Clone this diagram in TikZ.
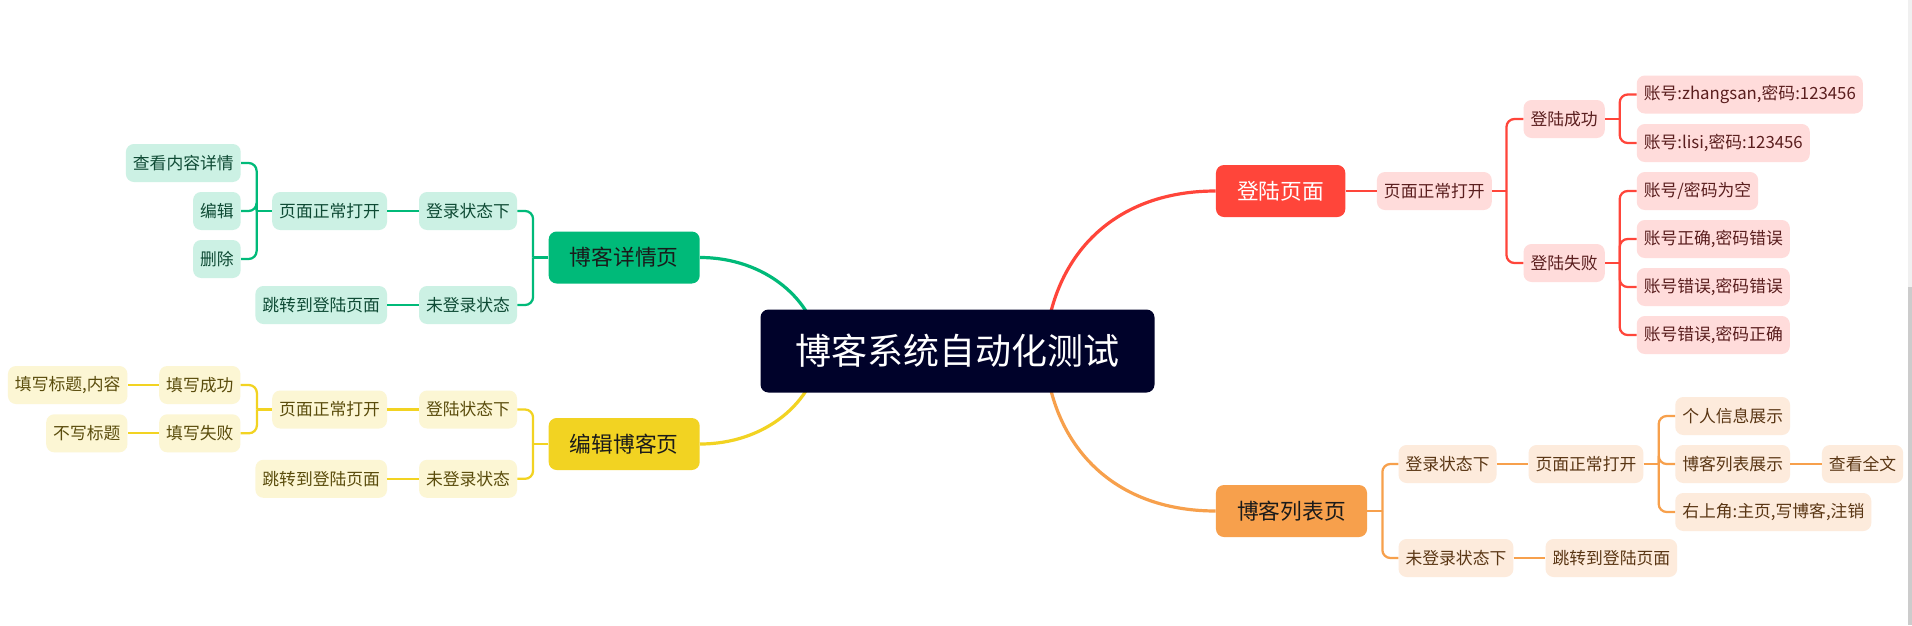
\documentclass[tikz,border=0pt]{standalone}
\usepackage{fontspec}
\setmainfont{Noto Sans CJK SC}
\usepackage{tikz}
\usepackage{xcolor}
\definecolor{RootNavy}{HTML}{00022A}
\definecolor{LoginRed}{HTML}{FF453A}
\definecolor{LoginPale}{HTML}{FFDCDB}
\definecolor{LoginInk}{HTML}{5A1E1E}
\definecolor{ListOrange}{HTML}{F7A04C}
\definecolor{ListPale}{HTML}{FDEBDC}
\definecolor{ListInk}{HTML}{5A3614}
\definecolor{DetailGreen}{HTML}{00BA79}
\definecolor{DetailPale}{HTML}{CCF1E4}
\definecolor{DetailInk}{HTML}{0E4A34}
\definecolor{EditYellow}{HTML}{F2D322}
\definecolor{EditPale}{HTML}{FCF6D4}
\definecolor{EditInk}{HTML}{5A4C0C}
\definecolor{TopicInk}{HTML}{1A1A1A}

\begin{document}
\begin{tikzpicture}[
    x=0.75pt, y=-0.75pt,
    every node/.style={
        rounded corners=6pt,
        inner xsep=5.25pt,
        inner ysep=0pt,
        minimum height=28.5pt,
        font=\fontsize{12.6pt}{15pt}\selectfont
    },
    root/.style={
        fill=RootNavy,
        text=white,
        minimum width=295.5pt,
        minimum height=62.25pt,
        font=\fontsize{27pt}{32pt}\selectfont
    },
    topic/.style={
        minimum height=39pt,
        inner xsep=15.9pt,
        font=\fontsize{16.3pt}{20pt}\selectfont
    },
    loginsub/.style={fill=LoginPale, text=LoginInk},
    listsub/.style={fill=ListPale, text=ListInk},
    detailsub/.style={fill=DetailPale, text=DetailInk},
    editsub/.style={fill=EditPale, text=EditInk},
    redline/.style={draw=LoginRed, line width=1.7pt, rounded corners=6pt},
    orangeline/.style={draw=ListOrange, line width=1.7pt, rounded corners=6pt},
    greenline/.style={draw=DetailGreen, line width=1.7pt, rounded corners=6pt},
    yellowline/.style={draw=EditYellow, line width=1.7pt, rounded corners=6pt},
    mainbranch/.style={line width=2.4pt}
]

\useasboundingbox (0,0) rectangle (1912,625);
\fill[white] (0,0) rectangle (1912,625);
\fill[black!6] (1908,0) rectangle (1912,287);
\fill[black!20] (1908,287) rectangle (1912,625);

\node[topic, fill=LoginRed, text=white, anchor=west] (login) at (1215.7,191) {登陆页面};
\node[loginsub, anchor=west] (lopen) at (1376.7,191) {页面正常打开};
\node[loginsub, anchor=west] (lok) at (1523.3,119) {登陆成功};
\node[loginsub, anchor=west] (lfail) at (1523.3,263) {登陆失败};
\node[loginsub, anchor=west] (lzhang) at (1636.5,94.5) {账号:zhangsan,密码:123456};
\node[loginsub, anchor=west] (llisi) at (1636.5,143) {账号:lisi,密码:123456};
\node[loginsub, anchor=west] (lempty) at (1636.5,191) {账号/密码为空};
\node[loginsub, anchor=west] (lbadpw) at (1636.5,239) {账号正确,密码错误};
\node[loginsub, anchor=west] (lboth) at (1636.5,287) {账号错误,密码错误};
\node[loginsub, anchor=west] (lbadid) at (1636.5,335) {账号错误,密码正确};

\node[topic, fill=ListOrange, text=TopicInk, anchor=west] (list) at (1215.7,511) {博客列表页};
\node[listsub, anchor=west] (lin) at (1398.3,464) {登录状态下};
\node[listsub, anchor=west] (lout) at (1398.3,558) {未登录状态下};
\node[listsub, anchor=west] (lpage) at (1528.3,464) {页面正常打开};
\node[listsub, anchor=west] (ljump) at (1545.3,558) {跳转到登陆页面};
\node[listsub, anchor=west] (linfo) at (1675,416) {个人信息展示};
\node[listsub, anchor=west] (lblogs) at (1675,464) {博客列表展示};
\node[listsub, anchor=west] (lcorner) at (1675,512) {右上角:主页,写博客,注销};
\node[listsub, anchor=west] (lfull) at (1821.7,464) {查看全文};

\node[topic, fill=DetailGreen, text=TopicInk, anchor=east] (detail) at (700,257.5) {博客详情页};
\node[detailsub, anchor=east] (din) at (517.3,211) {登录状态下};
\node[detailsub, anchor=east] (dout) at (517.3,305) {未登录状态};
\node[detailsub, anchor=east] (dpage) at (387.3,211) {页面正常打开};
\node[detailsub, anchor=east] (djump) at (387.3,305) {跳转到登陆页面};
\node[detailsub, anchor=east] (dview) at (241,163) {查看内容详情};
\node[detailsub, anchor=east] (dedit) at (241,211) {编辑};
\node[detailsub, anchor=east] (ddel) at (241,259) {删除};

\node[topic, fill=EditYellow, text=TopicInk, anchor=east] (edit) at (700,444) {编辑博客页};
\node[editsub, anchor=east] (ein) at (517.3,409.5) {登陆状态下};
\node[editsub, anchor=east] (eout) at (517.3,478.8) {未登录状态};
\node[editsub, anchor=east] (epage) at (387.3,409.5) {页面正常打开};
\node[editsub, anchor=east] (ejump) at (387.3,478.8) {跳转到登陆页面};
\node[editsub, anchor=east] (eok) at (240.7,385) {填写成功};
\node[editsub, anchor=east] (efail) at (240.7,433.3) {填写失败};
\node[editsub, anchor=east] (etitle) at (127.7,385) {填写标题,内容};
\node[editsub, anchor=east] (enotitle) at (127.7,433.3) {不写标题};

\coordinate (rootL) at (820,351);
\coordinate (rootR) at (1045,351);
\coordinate (lopenF) at ([xshift=10.8pt]lopen.east);
\coordinate (lokF) at ([xshift=11pt]lok.east);
\coordinate (lfailF) at ([xshift=11pt]lfail.east);
\coordinate (listF) at ([xshift=11.3pt]list.east);
\coordinate (lpageF) at ([xshift=11.3pt]lpage.east);
\coordinate (detailF) at ([xshift=-11.5pt]detail.west);
\coordinate (dpageF) at ([xshift=-11.5pt]dpage.west);
\coordinate (editF) at ([xshift=-11.5pt]edit.west);
\coordinate (epageF) at ([xshift=-11.3pt]epage.west);

\draw[redline, mainbranch] (login.west) .. controls (1110,191) and (1050,260) .. (rootR);
\draw[orangeline, mainbranch] (list.west) .. controls (1110,511) and (1050,442) .. (rootR);
\draw[greenline, mainbranch] (detail.east) .. controls (765,257.5) and (815,300) .. (rootL);
\draw[yellowline, mainbranch] (edit.east) .. controls (765,444) and (815,402) .. (rootL);

\node[root] (root) at (957.5,351) {博客系统自动化测试};

\draw[redline] (login) -- (lopen);
\draw[redline] (lopen.east) -- (lopenF);
\draw[redline] (lopenF) |- (lok.west);
\draw[redline] (lopenF) |- (lfail.west);
\draw[redline] (lok.east) -- (lokF);
\draw[redline] (lokF) |- (lzhang.west);
\draw[redline] (lokF) |- (llisi.west);
\draw[redline] (lfail.east) -- (lfailF);
\draw[redline] (lfailF) |- (lempty.west);
\draw[redline] (lfailF) |- (lbadpw.west);
\draw[redline] (lfailF) |- (lboth.west);
\draw[redline] (lfailF) |- (lbadid.west);

\draw[orangeline] (list.east) -- (listF);
\draw[orangeline] (listF) |- (lin.west);
\draw[orangeline] (listF) |- (lout.west);
\draw[orangeline] (lin) -- (lpage);
\draw[orangeline] (lout) -- (ljump);
\draw[orangeline] (lpage.east) -- (lpageF);
\draw[orangeline] (lpageF) |- (linfo.west);
\draw[orangeline] (lpageF) |- (lblogs.west);
\draw[orangeline] (lpageF) |- (lcorner.west);
\draw[orangeline] (lblogs) -- (lfull);

\draw[greenline] (detail.west) -- (detailF);
\draw[greenline] (detailF) |- (din.east);
\draw[greenline] (detailF) |- (dout.east);
\draw[greenline] (din) -- (dpage);
\draw[greenline] (dout) -- (djump);
\draw[greenline] (dpage.west) -- (dpageF);
\draw[greenline] (dpageF) |- (dview.east);
\draw[greenline] (dpageF) |- (dedit.east);
\draw[greenline] (dpageF) |- (ddel.east);

\draw[yellowline] (edit.west) -- (editF);
\draw[yellowline] (editF) |- (ein.east);
\draw[yellowline] (editF) |- (eout.east);
\draw[yellowline] (ein) -- (epage);
\draw[yellowline] (eout) -- (ejump);
\draw[yellowline] (epage.west) -- (epageF);
\draw[yellowline] (epageF) |- (eok.east);
\draw[yellowline] (epageF) |- (efail.east);
\draw[yellowline] (eok) -- (etitle);
\draw[yellowline] (efail) -- (enotitle);

\end{tikzpicture}
\end{document}
